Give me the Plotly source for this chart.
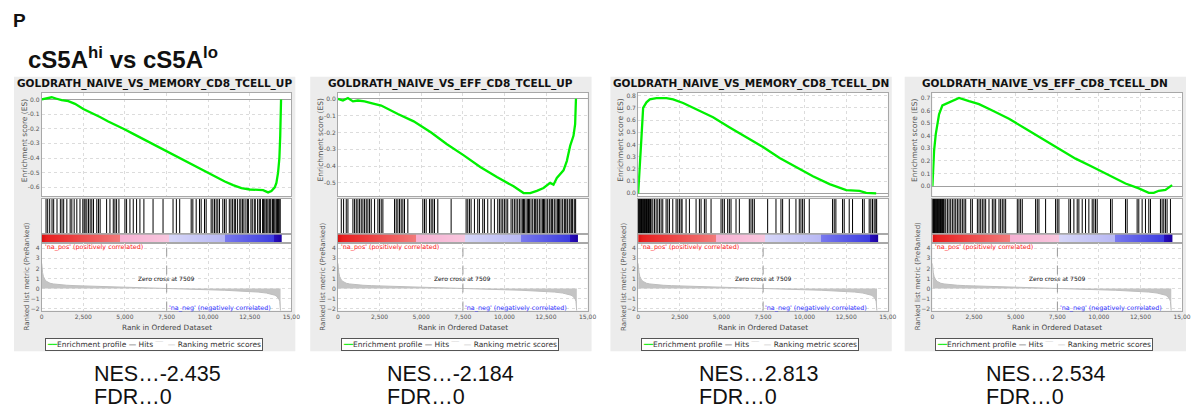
import plotly.graph_objects as go
import numpy as np

# ---------------- data ----------------
titles = ["GOLDRATH_NAIVE_VS_MEMORY_CD8_TCELL_UP", "GOLDRATH_NAIVE_VS_EFF_CD8_TCELL_UP",
          "GOLDRATH_NAIVE_VS_MEMORY_CD8_TCELL_DN", "GOLDRATH_NAIVE_VS_EFF_CD8_TCELL_DN"]
nes_values = ["-2.435", "-2.184", "2.813", "2.534"]
fdr_values = ["0", "0", "0", "0"]

es1_rank = [0, 300, 600, 900, 1200, 1600, 2000, 2500, 3000, 3500, 4000, 4500, 5000, 5500, 6000, 6500,
            7000, 7500, 8000, 8500, 9000, 9500, 10000, 10500, 11000, 11500, 12000, 12500, 13000, 13300,
            13600, 13800, 14000, 14100, 14200, 14280, 14330, 14360, 14380]
es1_val = [0.0, 0.01, 0.015, 0.005, -0.005, -0.012, -0.03, -0.065, -0.09, -0.12, -0.15, -0.175, -0.205,
           -0.235, -0.265, -0.295, -0.325, -0.355, -0.385, -0.415, -0.445, -0.475, -0.505, -0.53, -0.56,
           -0.585, -0.605, -0.615, -0.62, -0.62, -0.635, -0.625, -0.6, -0.57, -0.5, -0.4, -0.25, -0.1, 0.0]

es2_rank = [0, 300, 600, 900, 1200, 1600, 2000, 2600, 3600, 4550, 5600, 6550, 7560, 8550, 9550, 10550,
            11150, 11550, 11950, 12350, 12750, 12950, 13150, 13550, 13750, 13950, 14150, 14250, 14300]
es2_val = [0.0, -0.01, 0.005, -0.015, -0.01, -0.015, -0.025, -0.04, -0.09, -0.134, -0.2, -0.27, -0.336,
           -0.405, -0.465, -0.52, -0.56, -0.56, -0.547, -0.53, -0.5, -0.51, -0.47, -0.425, -0.37, -0.28,
           -0.22, -0.15, 0.0]

es3_rank = [0, 100, 200, 300, 500, 700, 1100, 1700, 2100, 2700, 3500, 4500, 5500, 6500, 7500, 8500,
            9500, 10500, 11500, 12500, 13300, 13700, 14300]
es3_val = [0.0, 0.19, 0.46, 0.7, 0.745, 0.77, 0.78, 0.78, 0.77, 0.74, 0.69, 0.623, 0.54, 0.46, 0.38,
           0.29, 0.217, 0.14, 0.076, 0.027, 0.02, 0.005, 0.0]

es4_rank = [0, 40, 100, 200, 400, 600, 1000, 1400, 1600, 2200, 2800, 3600, 4600, 5600, 6600, 7600,
            8600, 9600, 10600, 11600, 12400, 13000, 13300, 13600, 14000, 14300, 14400]
es4_val = [0.0, 0.126, 0.28, 0.41, 0.57, 0.64, 0.666, 0.69, 0.7, 0.674, 0.65, 0.6, 0.534, 0.455, 0.376,
           0.297, 0.218, 0.153, 0.087, 0.021, -0.018, -0.053, -0.053, -0.037, -0.03, -0.005, 0.008]

hits1 = [260, 360, 480, 620, 720, 920, 1120, 1220, 1320, 1510, 1710, 1810, 1950, 2110, 2300, 2470, 2550,
         2610, 2710, 2810, 2910, 3010, 3110, 3310, 3410, 3510, 3900, 4100, 4300, 4400, 4500, 4640, 5000,
         5100, 5300, 5500, 5700, 5900, 6140, 6690, 7290, 7890, 8090, 8290, 8980, 9080, 9280, 9480, 9580,
         9780, 9880, 10180, 10280, 10380, 10480, 10580, 10680, 10880, 10980, 11080, 11270, 11370, 11470,
         11570, 11650, 11770, 11900, 11970, 12070, 12150, 12270, 12370, 12420, 12570, 12650, 12770, 12830,
         12970, 13070, 13140, 13270, 13320, 13370, 13470, 13520, 13590, 13670, 13720, 13770, 13870,
         13920, 13970, 14070, 14120, 14170, 14220, 14270, 14330]
hits2 = [200, 340, 500, 600, 900, 1000, 1100, 1200, 1300, 1400, 1500, 1600, 1700, 1800, 1900, 2000,
         2200, 2400, 2500, 2600, 2700, 3400, 3500, 3600, 3700, 3800, 3900, 4000, 4200, 5100, 5200, 5300,
         5500, 5600, 5700, 5800, 6000, 6800, 7700, 7800, 7900, 8000, 8200, 8400, 8500, 8700, 8800, 9000,
         9200, 9400, 9600, 9700, 9800, 9900, 10000, 10100, 10200, 10400, 10500, 10600, 10700, 10800,
         10900, 11000, 11100, 11150, 11200, 11300, 11400, 11450, 11500, 11600, 11700, 11800, 11850,
         11900, 12000, 12100, 12200, 12300, 12350, 12400, 12500, 12600, 12700, 12800, 12850, 12900,
         13000, 13100, 13200, 13250, 13300, 13400, 13500, 13600, 13650, 13700, 13800, 13900, 14000,
         14050, 14100, 14200, 14280]
hits3 = [0, 30, 60, 100, 130, 170, 200, 240, 280, 310, 350, 390, 420, 460, 500, 540, 580, 620, 660, 700,
         740, 780, 880, 980, 1080, 1180, 1280, 1380, 1480, 1680, 1780, 1880, 2080, 2280, 2380, 2480,
         2580, 2640, 2880, 3080, 3480, 3680, 3780, 3980, 4080, 4380, 4980, 5080, 5180, 5380, 5480, 5580,
         5880, 6080, 6680, 6780, 6880, 6980, 7780, 8280, 8580, 8680, 9080, 9480, 9680, 9780, 9880, 9980,
         10280, 11680, 11780, 11880, 12280, 12380, 12680, 12880, 13480, 13580, 13880, 13980, 14080,
         14180, 14280, 14330]
hits4 = [0, 30, 60, 90, 130, 160, 200, 230, 270, 300, 340, 380, 410, 450, 490, 520, 560, 600, 640, 680,
         700, 800, 900, 1000, 1100, 1200, 1300, 1400, 1500, 1600, 1700, 1800, 1900, 2000, 2300, 2400,
         2700, 2800, 2900, 3000, 3100, 3200, 3400, 3600, 3700, 3800, 4000, 4100, 4200, 4300, 4400, 5100,
         5200, 5300, 5400, 6200, 6300, 6400, 6800, 7400, 7500, 7600, 8200, 8300, 8500, 8700, 8800, 9000,
         9200, 9400, 9600, 9700, 9800, 9900, 10700, 10800, 11600, 11700, 12300, 12400, 12600, 12800,
         13000, 13100, 13700, 13800, 13900, 14000, 14100, 14300]

metric_rank = [0, 20, 50, 100, 150, 200, 300, 400, 500, 700, 1000, 1500, 2000, 2500, 3000, 4000, 5000,
               6000, 7000, 7509, 8000, 9000, 10000, 11000, 12000, 12500, 13000, 13500, 13800, 14000,
               14100, 14200, 14250, 14300, 14330, 14350]
metric_val = [2.5, 2.0, 1.6, 1.2, 1.0, 0.85, 0.7, 0.6, 0.52, 0.45, 0.38, 0.32, 0.28, 0.25, 0.22, 0.17,
              0.13, 0.09, 0.04, 0.0, -0.03, -0.08, -0.13, -0.18, -0.25, -0.3, -0.36, -0.46, -0.56, -0.67,
              -0.76, -0.92, -1.05, -1.3, -1.7, -2.35]
zero_cross = 7509
list_size = 14400

rank_ticks = [0, 2500, 5000, 7500, 10000, 12500, 15000]
rank_ticktext = ["0", "2,500", "5,000", "7,500", "10,000", "12,500", "15,00"]
metric_ticks = [-2, -1, 0, 1, 2, 3, 4]
es_ticks = [[-0.6, -0.5, -0.4, -0.3, -0.2, -0.1, 0.0],
            [-0.5, -0.4, -0.3, -0.2, -0.1, 0.0],
            [0.0, 0.1, 0.2, 0.3, 0.4, 0.5, 0.6, 0.7, 0.8],
            [0.0, 0.1, 0.2, 0.3, 0.4, 0.5, 0.6, 0.7]]
es_ranges = [[-0.66, 0.047], [-0.578, 0.037], [-0.022, 0.825], [-0.079, 0.742]]

es_ranks = [es1_rank, es2_rank, es3_rank, es4_rank]
es_vals = [es1_val, es2_val, es3_val, es4_val]
hits_all = [hits1, hits2, hits3, hits4]

# ---------------- layout geometry (page pixels) ----------------
OFF = 8                      # default body margin of the page
W, H = 1200 - OFF, 414 - OFF  # figure size so it fits the window
plot_left = [40, 339, 642, 939]
plot_w = 252
Y_ES = (92, 196)
Y_HITS = (199, 234)
Y_BAND = (234.5, 243)
Y_RANK = (243.5, 311)
BOX_TOP, BOX_BOT = 76, 352
nes_x = [91, 386, 701, 991]


def fx(x):
    return (x - OFF) / W


def fy(y):
    return 1 - (y - OFF) / H


band_colorscale = [[0.0, '#d81010'], [0.02, '#e82020'], [0.326, '#f27a7a'], [0.326, '#f6b0d2'],
                   [0.528, '#f8c6de'], [0.528, '#d6d6f8'], [0.764, '#b8b8f4'], [0.764, '#7878ee'],
                   [0.965, '#3c3ce0'], [0.965, '#2a10c0'], [1.0, '#1a00a0']]

fig = go.Figure()
layout = dict(width=W, height=H, autosize=False, margin=dict(l=0, r=0, t=0, b=0, pad=0),
              paper_bgcolor='white', plot_bgcolor='rgba(0,0,0,0)', showlegend=False)
shapes = []
annotations = []

tickfont = dict(family='DejaVu Sans', size=6, color='#555555')
gridc = '#dcdcdc'
linec = '#a8a8a8'

band_x = np.arange(30, list_size, 60)


def ann(**kw):
    base = dict(xref='paper', yref='paper', showarrow=False, xanchor='center', yanchor='middle')
    base.update(kw)
    annotations.append(base)


for i in range(4):
    L = plot_left[i]
    R = L + plot_w
    xd = [fx(L), fx(R)]
    n_es, n_hit, n_band, n_rank = 4 * i + 1, 4 * i + 2, 4 * i + 3, 4 * i + 4

    shapes.append(dict(type='rect', xref='paper', yref='paper', layer='below',
                       x0=fx(L - 28), x1=fx(R + 4), y0=fy(BOX_BOT), y1=fy(BOX_TOP),
                       fillcolor='#ececec', line=dict(width=0)))
    for (yt, yb) in [Y_ES, (Y_HITS[0], Y_BAND[1]), Y_RANK]:
        shapes.append(dict(type='rect', xref='paper', yref='paper', layer='below',
                           x0=fx(L), x1=fx(R), y0=fy(yb), y1=fy(yt),
                           fillcolor='white', line=dict(width=0)))

    def ax(n):
        return '' if n == 1 else str(n)

    # ES axes
    layout['xaxis' + ax(n_es)] = dict(domain=xd, anchor='y' + ax(n_es), range=[0, 15000],
                                      tickvals=rank_ticks, showticklabels=False, ticks='',
                                      showgrid=True, gridcolor=gridc, griddash='dot', gridwidth=1,
                                      zeroline=False, showline=True, mirror=True, linecolor=linec,
                                      linewidth=1)
    layout['yaxis' + ax(n_es)] = dict(domain=[fy(Y_ES[1]), fy(Y_ES[0])], anchor='x' + ax(n_es),
                                      range=es_ranges[i], tickvals=es_ticks[i],
                                      ticktext=['%.1f' % v for v in es_ticks[i]], tickfont=tickfont,
                                      ticks='', showgrid=True, gridcolor=gridc, griddash='dot',
                                      zeroline=True, zerolinecolor='#a0a0a0', zerolinewidth=1,
                                      showline=True, mirror=True, linecolor=linec, linewidth=1)
    fig.add_trace(go.Scatter(x=es_ranks[i], y=es_vals[i], mode='lines',
                             line=dict(color='#00f000', width=2.3),
                             xaxis='x' + ax(n_es), yaxis='y' + ax(n_es), name='Enrichment profile'))

    # hits axes
    layout['xaxis' + ax(n_hit)] = dict(domain=xd, anchor='y' + ax(n_hit), range=[0, 15000],
                                       showticklabels=False, ticks='', showgrid=False, zeroline=False,
                                       showline=True, mirror=True, linecolor=linec, linewidth=1)
    layout['yaxis' + ax(n_hit)] = dict(domain=[fy(Y_HITS[1]), fy(Y_HITS[0])], anchor='x' + ax(n_hit),
                                       range=[0, 1], showticklabels=False, ticks='', showgrid=False,
                                       zeroline=False, showline=True, mirror=True, linecolor=linec,
                                       linewidth=1)
    hx, hy = [], []
    for r in hits_all[i]:
        hx += [r, r, None]
        hy += [0, 1, None]
    fig.add_trace(go.Scatter(x=hx, y=hy, mode='lines', line=dict(color='#000000', width=1),
                             xaxis='x' + ax(n_hit), yaxis='y' + ax(n_hit), name='Hits'))

    # band axes
    layout['xaxis' + ax(n_band)] = dict(domain=xd, anchor='y' + ax(n_band), range=[0, 15000],
                                        showticklabels=False, ticks='', showgrid=False, zeroline=False,
                                        showline=True, mirror=True, linecolor=linec, linewidth=1)
    layout['yaxis' + ax(n_band)] = dict(domain=[fy(Y_BAND[1]), fy(Y_BAND[0])], anchor='x' + ax(n_band),
                                        range=[0, 1], showticklabels=False, ticks='', showgrid=False,
                                        zeroline=False, showline=True, mirror=True, linecolor=linec,
                                        linewidth=1)
    fig.add_trace(go.Heatmap(x=band_x, y=[0.5], z=[list(band_x / list_size)], colorscale=band_colorscale,
                             zmin=0, zmax=1, showscale=False, xaxis='x' + ax(n_band),
                             yaxis='y' + ax(n_band), hoverinfo='skip'))

    # ranked metric axes
    layout['xaxis' + ax(n_rank)] = dict(domain=xd, anchor='y' + ax(n_rank), range=[0, 15000],
                                        tickvals=rank_ticks, ticktext=rank_ticktext, tickfont=tickfont,
                                        ticks='', showgrid=True, gridcolor=gridc, griddash='dot',
                                        zeroline=False, showline=True, mirror=True, linecolor=linec,
                                        linewidth=1)
    layout['yaxis' + ax(n_rank)] = dict(domain=[fy(Y_RANK[1]), fy(Y_RANK[0])], anchor='x' + ax(n_rank),
                                        range=[-2.2, 4.5], tickvals=metric_ticks, tickfont=tickfont,
                                        ticks='', showgrid=True, gridcolor=gridc, griddash='dot',
                                        zeroline=False, showline=True, mirror=True, linecolor=linec,
                                        linewidth=1)
    fig.add_trace(go.Scatter(x=metric_rank, y=metric_val, mode='lines', fill='tozeroy',
                             fillcolor='#c4c4c4', line=dict(color='#bdbdbd', width=1),
                             xaxis='x' + ax(n_rank), yaxis='y' + ax(n_rank),
                             name='Ranking metric scores'))
    shapes.append(dict(type='line', xref='x' + ax(n_rank), yref='y' + ax(n_rank) + ' domain',
                       x0=zero_cross, x1=zero_cross, y0=0, y1=1,
                       line=dict(color='#9a9a9a', width=1, dash='dash')))

    xr, yr = 'x' + ax(n_rank), 'y' + ax(n_rank)
    ann(xref=xr, yref=yr, x=zero_cross, y=1.0, text='Zero cross at 7509',
        font=dict(family='DejaVu Sans', size=6, color='#111111'))
    ann(xref=xr, yref=yr, x=60, y=4.15, xanchor='left',
        text="'na_pos' (positively correlated)",
        font=dict(family='DejaVu Sans', size=6.4, color='#ff2020'))
    ann(xref=xr, yref=yr, x=zero_cross + 20, y=-2.0, xanchor='left',
        text="'na_neg' (negatively correlated)",
        font=dict(family='DejaVu Sans', size=6.4, color='#3030ff'))

    # axis titles
    ann(x=fx(L - 18), y=fy(140), text='Enrichment score (ES)', textangle=-90,
        font=dict(family='DejaVu Sans', size=7.5, color='#555555'))
    ann(x=fx(L - 15), y=fy(277), text='Ranked list metric (PreRanked)', textangle=-90,
        font=dict(family='DejaVu Sans', size=7, color='#555555'))
    ann(x=fx((L + R) / 2), y=fy(328), text='Rank in Ordered Dataset',
        font=dict(family='DejaVu Sans', size=7.3, color='#444444'))
    # panel title
    ann(x=fx((L - 28 + R + 4) / 2), y=fy(83), text=titles[i],
        font=dict(family='DejaVu Sans', size=10.5, color='#111111', weight='bold'))
    # legend box
    leg = ('<span style="color:#22ee22">━━</span>Enrichment profile — Hits '
           '<span style="color:#d8d8d8">‾‾</span>  <span style="color:#bbbbbb">—</span> '
           'Ranking metric scores')
    ann(x=fx(L + 113), y=fy(345), text=leg, bgcolor='white', bordercolor='#555555', borderwidth=1,
        borderpad=1, font=dict(family='DejaVu Sans', size=7.5, color='#333333'))
    # NES / FDR
    ann(x=fx(nes_x[i]), y=fy(375), xanchor='left', text='NES…' + nes_values[i],
        font=dict(family='Liberation Sans', size=21.5, color='#111111'))
    ann(x=fx(nes_x[i]), y=fy(398), xanchor='left', text='FDR…' + fdr_values[i],
        font=dict(family='Liberation Sans', size=21.5, color='#111111'))

ann(x=fx(9), y=fy(20), xanchor='left', text='P',
    font=dict(family='Liberation Sans', size=19, color='#111111', weight='bold'))
ann(x=fx(24), y=fy(57), xanchor='left', text='cS5A<sup>hi</sup> vs cS5A<sup>lo</sup>',
    font=dict(family='Liberation Sans', size=24, color='#111111', weight='bold'))

layout['shapes'] = shapes
layout['annotations'] = annotations
fig.update_layout(**layout)
fig.write_html('out.html')
